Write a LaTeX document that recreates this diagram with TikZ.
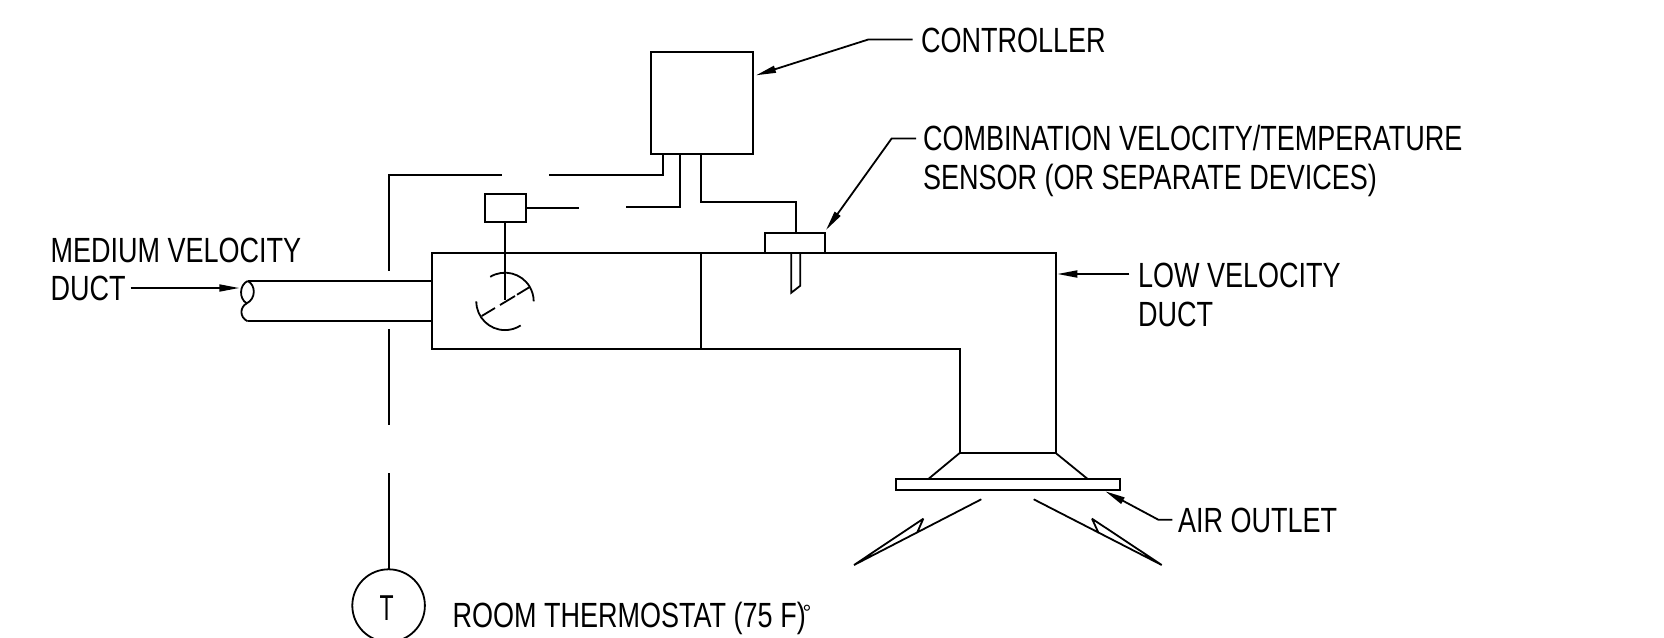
\documentclass[tikz,border=0pt]{standalone}
\usepackage{fontspec}
\setmainfont[FakeStretch=0.772]{Liberation Sans}
\newfontfamily\degf{Liberation Sans}
\newfontfamily\thf[FakeStretch=0.64]{Liberation Sans}
\usetikzlibrary{arrows.meta}
\tikzset{
  ln/.style={line width=1.8pt,line join=miter,line cap=butt,black},
  boxn/.style={ln,draw,rectangle,inner sep=0pt,outer sep=0pt},
  lead/.style={ln,-{Triangle[length=20pt,width=7pt]}},
  lab/.style={anchor=base west,inner sep=0pt,outer sep=0pt,align=left,font=\fontsize{35}{38.3}\selectfont,text=black}
}
\begin{document}
\begin{tikzpicture}[x=1pt,y=1pt,yscale=-1]
\useasboundingbox (0,0) rectangle (1664,637);
% devices
\node[boxn,minimum width=102pt,minimum height=102pt] (ctrl) at (701.6,103) {};
\node[boxn,minimum width=40.7pt,minimum height=28pt] (act) at (505.3,207.7) {};
\node[boxn,minimum width=59.4pt,minimum height=20.3pt] (sens) at (795,243.2) {};
\node[ln,draw,circle,inner sep=0pt,outer sep=0pt,minimum size=72.6pt] (tstat) at (388.6,605.6) {};
\node[anchor=base,inner sep=0pt,font=\fontsize{36}{40}\thf] (tt) at (386.7,620) {T};
% box and duct
\draw[ln] (701,253.3) -- (431.7,253.3) -- (431.7,349) -- (959.7,349) -- (959.7,453) -- (1055.7,453) -- (1055.7,253.3) -- (824.7,253.3);
\draw[ln] (701,253.3) -- (765.3,253.3);
\draw[ln] (701,253.3) -- (701,349);
\draw[ln] (247.7,281) -- (431.7,281);
\draw[ln] (247.7,321.3) -- (431.7,321.3);
\draw[ln] (247.7,281) .. controls (239,285) and (239,299) .. (246.7,303.3) .. controls (256,299) and (256,285) .. (247.7,281);
\draw[ln] (246.7,303.3) .. controls (240,307) and (239,317) .. (247.7,321.3);
% damper
\draw[ln] (act.south) -- (505.3,300);
\draw[ln] (481.7,316) -- (495,308);
\draw[ln] (500,305) -- (515,296);
\draw[ln] (517,294.7) -- (529.3,287.3);
\draw[ln] (505+28.7*cos -121, 301.4+28.7*sin -121) arc[start angle=-121,end angle=0,radius=28.7];
\draw[ln] (505-28.7,301.4) arc[start angle=180,end angle=57,radius=28.7];
% probe
\draw[ln] (791.3,253.3) -- (791.3,292.7) -- (800.3,285.7) -- (800.3,253.3);
% wires
\draw[ln] (662.7,0 |- ctrl.south) -- (662.7,174.7) -- (549,174.7);
\draw[ln] (501.7,174.7) -- (389,174.7) -- (389,271);
\draw[ln] (389,329) -- (389,425);
\draw[ln] (389,473) -- (389,0 |- tstat.north);
\draw[ln] (680.3,0 |- ctrl.south) -- (680.3,206.7) -- (626,206.7);
\draw[ln] (act.east) -- (579.3,0 |- act.east);
\draw[ln] (701.3,0 |- ctrl.south) -- (701.3,201.7) -- (796.3,201.7) -- (796.3,0 |- sens.north);
% outlet
\node[boxn,minimum width=224.3pt,minimum height=11.3pt] (outlet) at (1007.85,484.35) {};
\draw[ln] (959.7,453) -- (928.7,478.7);
\draw[ln] (1055.7,453) -- (1087.3,478.7);
\draw[ln,line join=bevel] (981.3,499.3) -- (854,565) -- (923.3,518.7) -- (917.3,532.3);
\draw[ln,line join=bevel] (1033.7,499.3) -- (1161.7,565) -- (1092,518.7) -- (1098.7,533.3);
% labels
\node[lab] (lctrl) at (921,52.5) {CONTROLLER};
\node[lab] (lsens) at (923,189) {COMBINATION VELOCITY/TEMPERATURE\\SENSOR (OR SEPARATE DEVICES)};
\node[lab] (lmed) at (50.5,300.6) {MEDIUM VELOCITY\\DUCT};
\node[lab] (llow) at (1138,326) {LOW VELOCITY\\DUCT};
\node[lab] (lair) at (1178,532.6) {AIR OUTLET};
\node[lab] (lroom) at (452.5,627.5) {ROOM THERMOSTAT (75 F)};
\node[anchor=base,inner sep=0pt,font=\fontsize{22}{24}\degf] (ldeg) at (807,620) {°};
% leaders
\coordinate (c1) at (912.7,39.5);
\coordinate (c2) at (868.3,39.5);
\coordinate (c3) at (756,75.3);
\draw[lead] (c1) -- (c2) -- (c3);
\coordinate (s1) at (916,138.4);
\coordinate (s2) at (891.7,138.4);
\coordinate (s3) at (826,230);
\draw[lead] (s1) -- (s2) -- (s3);
\coordinate (m1) at (130.7,288);
\coordinate (m2) at (239.3,288);
\draw[lead] (m1) -- (m2);
\coordinate (o1) at (1129.3,274);
\coordinate (o2) at (1057.3,274);
\draw[lead] (o1) -- (o2);
\coordinate (a1) at (1172.3,519.7);
\coordinate (a2) at (1158.3,519.7);
\coordinate (a3) at (1105.3,491.3);
\draw[lead] (a1) -- (a2) -- (a3);
\end{tikzpicture}
\end{document}
